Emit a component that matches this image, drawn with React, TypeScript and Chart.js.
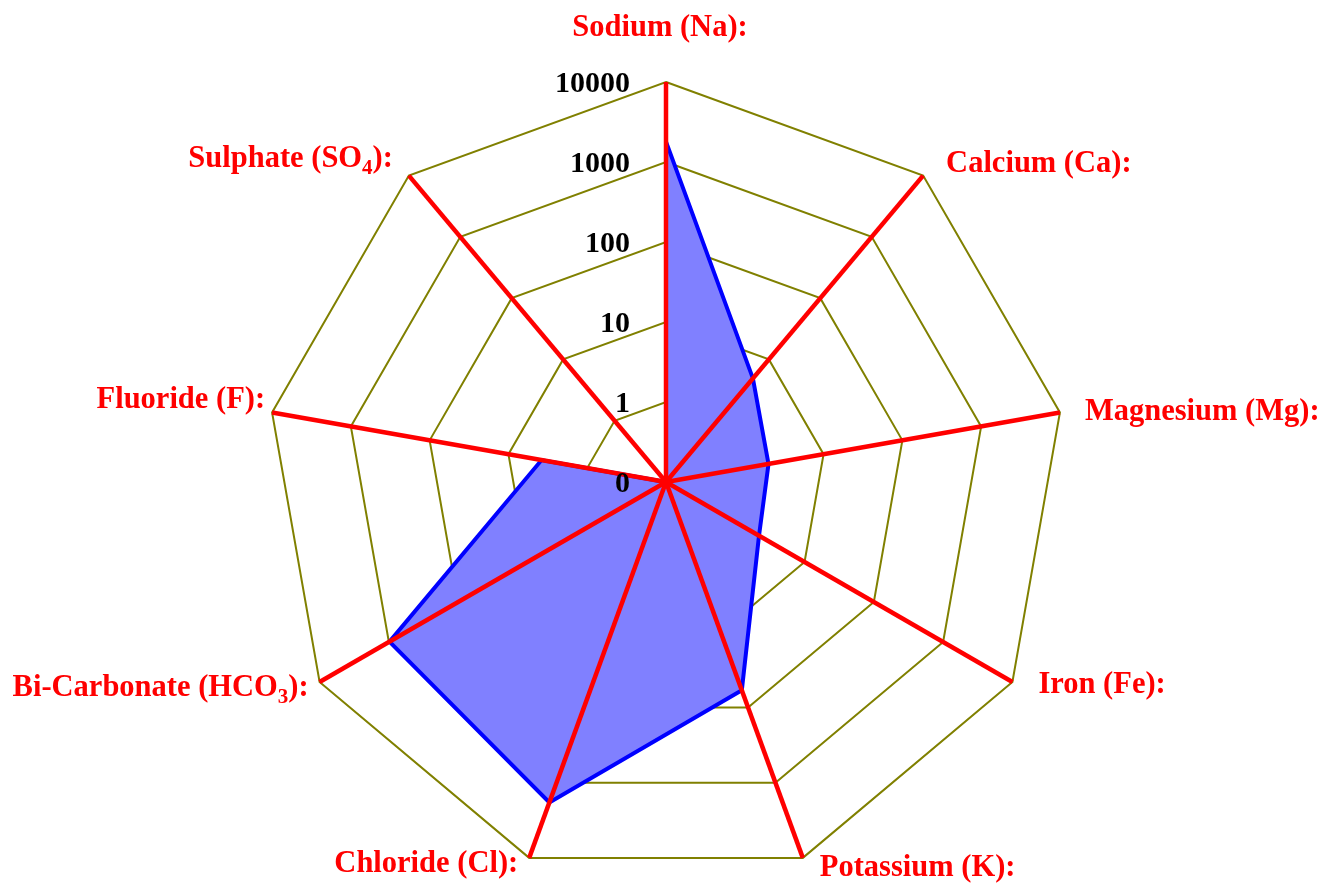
import React, { useEffect, useRef } from 'react';
import { Chart, registerables } from 'chart.js';

Chart.register(...registerables);

// ---- data ----
const categories = [
  'Sodium (Na):',
  'Calcium (Ca):',
  'Magnesium (Mg):',
  'Iron (Fe):',
  'Potassium (K):',
  'Chloride (Cl):',
  'Bi-Carbonate (HCO₃):',
  'Fluoride (F):',
  'Sulphate (SO₄):',
];
const values = [1800, 4.9, 2.0, 2.2, 59, 1830, 980, 3.8, 0];
const tickLabels = ['0', '1', '10', '100', '1000', '10000'];

// ---- layout (label placement relative to axis ends) ----
const labelAlign = ['center', 'left', 'left', 'left', 'left', 'right', 'right', 'right', 'right'];
const labelDx = [-6, 23, 25, 26, 17, -11, -11, -7, -16];
const labelDy = [-46, -4, 7, 11, 18, 14, 14, -5, -9];

const FONT = '"Liberation Serif", "Times New Roman", serif';
const toLog = (v: number) => (v > 0 ? Math.log10(v) + 1 : 0);

function splitSub(text: string) {
  const segs: { t: string; sub: boolean }[] = [];
  for (const ch of Array.from(text)) {
    const code = ch.codePointAt(0) || 0;
    const sub = code >= 0x2080 && code <= 0x2089;
    const t = sub ? String.fromCharCode(48 + code - 0x2080) : ch;
    const last = segs[segs.length - 1];
    if (last && last.sub === sub) last.t += t;
    else segs.push({ t, sub });
  }
  return segs;
}

function drawRich(ctx: CanvasRenderingContext2D, text: string, x: number, y: number, align: string) {
  const big = `bold 30.5px ${FONT}`;
  const small = `bold 21px ${FONT}`;
  const segs = splitSub(text);
  const widths = segs.map((s) => {
    ctx.font = s.sub ? small : big;
    return ctx.measureText(s.t).width;
  });
  const total = widths.reduce((a, b) => a + b, 0);
  let sx = align === 'left' ? x : align === 'right' ? x - total : x - total / 2;
  ctx.textAlign = 'left';
  ctx.textBaseline = 'alphabetic';
  segs.forEach((s, i) => {
    ctx.font = s.sub ? small : big;
    ctx.fillText(s.t, sx, y + (s.sub ? 7 : 0));
    sx += widths[i];
  });
}

const overlayPlugin = {
  id: 'overlay',
  afterDatasetsDraw(chart: any) {
    const scale = chart.scales.r;
    const ctx: CanvasRenderingContext2D = chart.ctx;
    const cx = scale.xCenter;
    const cy = scale.yCenter;
    ctx.save();
    // red axis lines on top of the data
    ctx.strokeStyle = '#ff0000';
    ctx.lineWidth = 4.5;
    ctx.lineCap = 'butt';
    categories.forEach((_, i) => {
      const p = scale.getPointPosition(i, scale.drawingArea);
      ctx.beginPath();
      ctx.moveTo(cx, cy);
      ctx.lineTo(p.x, p.y);
      ctx.stroke();
    });
    // tick labels
    ctx.fillStyle = '#000000';
    ctx.font = `bold 30px ${FONT}`;
    ctx.textAlign = 'right';
    ctx.textBaseline = 'alphabetic';
    tickLabels.forEach((t, i) => {
      const d = scale.getDistanceFromCenterForValue(i);
      ctx.fillText(t, cx - 36, cy - d + 10);
    });
    // category labels
    ctx.fillStyle = '#ff0000';
    categories.forEach((c, i) => {
      const p = scale.getPointPosition(i, scale.drawingArea);
      drawRich(ctx, c, p.x + labelDx[i], p.y + labelDy[i], labelAlign[i]);
    });
    ctx.restore();
  },
};

export default function App() {
  const ref = useRef<HTMLCanvasElement | null>(null);
  useEffect(() => {
    if (!ref.current) return;
    const chart = new Chart(ref.current, {
      type: 'radar',
      data: {
        labels: categories,
        datasets: [
          {
            data: values.map(toLog),
            backgroundColor: '#8080ff',
            borderColor: '#0000ff',
            borderWidth: 4,
            borderJoinStyle: 'miter',
            pointRadius: 0,
            pointHoverRadius: 0,
            fill: true,
          },
        ],
      },
      options: {
        animation: false,
        responsive: false,
        layout: { padding: { left: 266, right: 261, top: 82, bottom: 2 } },
        plugins: {
          legend: { display: false },
          tooltip: { enabled: false },
          title: { display: false },
        },
        scales: {
          r: {
            min: 0,
            max: 5,
            ticks: { display: false, stepSize: 1 },
            grid: { color: '#808000', lineWidth: 2, circular: false },
            angleLines: { display: false },
            pointLabels: { display: false },
          },
        },
      },
      plugins: [overlayPlugin],
    } as any);
    return () => chart.destroy();
  }, []);
  return (
    <div style={{ position: 'absolute', left: 0, top: 0, width: 1327, height: 884, background: '#fff' }}>
      <canvas ref={ref} width={1327} height={884} style={{ display: 'block' }} />
    </div>
  );
}
